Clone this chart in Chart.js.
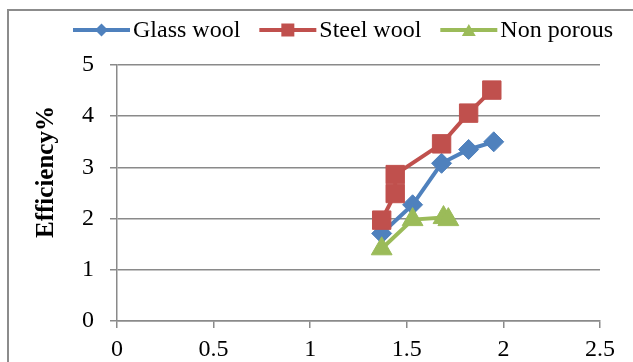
<!DOCTYPE html>
<html>
<head>
<meta charset="utf-8">
<script src="https://cdn.jsdelivr.net/npm/chart.js@4/dist/chart.umd.min.js"></script>
<style>
  html, body { margin: 0; padding: 0; background: #ffffff; }
  #wrap { position: relative; width: 633px; height: 362px; }
</style>
</head>
<body>
<div id="wrap"><canvas id="c" width="633" height="362"></canvas></div>
<script>
// Series names and measured values
const seriesNames = ['Glass wool', 'Steel wool', 'Non porous'];
const glassX = [1.37, 1.53, 1.68, 1.82, 1.95];
const glassY = [1.71, 2.27, 3.08, 3.35, 3.50];
const steelX = [1.37, 1.44, 1.44, 1.68, 1.82, 1.94];
const steelY = [1.97, 2.49, 2.86, 3.46, 4.06, 4.51];
const nonPorousX = [1.37, 1.53, 1.69, 1.715];
const nonPorousY = [1.41, 1.98, 2.02, 1.98];

// Axis tick labels and title
const xTickLabels = ['0', '0.5', '1', '1.5', '2', '2.5'];
const yTickLabels = ['0', '1', '2', '3', '4', '5'];
const yTitle = 'Efficiency%';

const colors = ['#4F81BD', '#C0504D', '#9BBB59'];
const markers = ['rectRot', 'rect', 'triangle'];
const FONT = '"Liberation Serif", "Times New Roman", serif';
const GRID = '#8a8a8a';

function toPoints(xs, ys) {
  return xs.map((x, i) => ({ x: x, y: ys[i] }));
}

// Line-plus-marker legend symbol
function drawSwatch(g, x0, cy, color, marker) {
  const len = 57, cx = x0 + len / 2;
  g.strokeStyle = color; g.lineWidth = 4;
  g.beginPath(); g.moveTo(x0, cy); g.lineTo(x0 + len, cy); g.stroke();
  g.fillStyle = color;
  g.beginPath();
  if (marker === 'rectRot') {
    const r = 6.5;
    g.moveTo(cx - r, cy); g.lineTo(cx, cy - r); g.lineTo(cx + r, cy); g.lineTo(cx, cy + r);
  } else if (marker === 'rect') {
    const s = 6.5;
    g.rect(cx - s, cy - s, 2 * s, 2 * s);
  } else {
    const r = 8;
    for (let k = 0; k < 3; k++) {
      const a = k * 2 * Math.PI / 3;
      const px = cx + Math.sin(a) * r, py = cy + 2 - Math.cos(a) * r;
      if (k === 0) g.moveTo(px, py); else g.lineTo(px, py);
    }
  }
  g.closePath(); g.fill();
}

// Outer frame of the chart object and white background
const framePlugin = {
  id: 'frame',
  beforeDraw(chart) {
    const ctx = chart.ctx;
    ctx.save();
    ctx.fillStyle = '#ffffff';
    ctx.fillRect(0, 0, chart.width, chart.height);
    ctx.strokeStyle = '#8c8c8c';
    ctx.lineWidth = 2;
    ctx.beginPath();
    ctx.moveTo(8, chart.height);
    ctx.lineTo(8, 10);
    ctx.lineTo(chart.width, 10);
    ctx.stroke();
    ctx.restore();
  }
};

// Rotated value-axis title and the legend row along the top
const labelsPlugin = {
  id: 'labels',
  afterDraw(chart) {
    const ctx = chart.ctx;
    ctx.save();
    ctx.translate(47, 172);
    ctx.rotate(-Math.PI / 2);
    ctx.font = 'bold 25px ' + FONT;
    ctx.fillStyle = '#000000';
    ctx.textAlign = 'center';
    ctx.textBaseline = 'middle';
    ctx.fillText(yTitle, 0, 0);
    ctx.restore();

    ctx.save();
    ctx.font = '24px ' + FONT;
    ctx.textAlign = 'left';
    ctx.textBaseline = 'middle';
    let x = 73;
    const cy = 30;
    chart.data.datasets.forEach((ds, i) => {
      drawSwatch(ctx, x, cy, colors[i], markers[i]);
      x += 60;
      ctx.fillStyle = '#000000';
      ctx.fillText(ds.label, x, cy + 1);
      x += ctx.measureText(ds.label).width + 19;
    });
    ctx.restore();
  }
};

const datasets = [
  { label: seriesNames[0], data: toPoints(glassX, glassY), order: 3 },
  { label: seriesNames[1], data: toPoints(steelX, steelY), order: 2 },
  { label: seriesNames[2], data: toPoints(nonPorousX, nonPorousY), order: 1 }
].map((d, i) => Object.assign(d, {
  borderColor: colors[i],
  backgroundColor: colors[i],
  borderWidth: 4,
  pointStyle: markers[i],
  pointRadius: [10, 13, 12][i],
  pointBorderWidth: 1,
  pointBorderColor: colors[i],
  pointBackgroundColor: colors[i],
  fill: false,
  tension: 0
}));

new Chart(document.getElementById('c'), {
  type: 'line',
  data: { datasets: datasets },
  options: {
    responsive: false,
    animation: false,
    devicePixelRatio: 1,
    layout: { padding: { left: 8, right: 33, top: 65, bottom: 0 } },
    plugins: {
      tooltip: { enabled: false },
      legend: { display: false }
    },
    scales: {
      x: {
        type: 'linear',
        position: 'bottom',
        min: 0,
        max: 2.5,
        afterFit(scale) { scale.height = 41; },
        ticks: {
          stepSize: 0.5,
          padding: 7,
          color: '#000000',
          font: { family: FONT, size: 24 },
          maxRotation: 0,
          callback: (v) => xTickLabels[Math.round(v / 0.5)]
        },
        grid: { drawOnChartArea: false, drawTicks: true, tickLength: 7, color: GRID, lineWidth: 1.5 },
        border: { display: true, color: GRID, width: 1.5 }
      },
      y: {
        type: 'linear',
        min: 0,
        max: 5,
        afterFit(scale) { scale.width = 109; },
        ticks: {
          stepSize: 1,
          padding: 16,
          color: '#000000',
          font: { family: FONT, size: 24 },
          callback: (v) => yTickLabels[Math.round(v)]
        },
        grid: { drawTicks: true, tickLength: 7, color: GRID, lineWidth: 1.5 },
        border: { display: true, color: GRID, width: 1.5 }
      }
    }
  },
  plugins: [framePlugin, labelsPlugin]
});
</script>
</body>
</html>
